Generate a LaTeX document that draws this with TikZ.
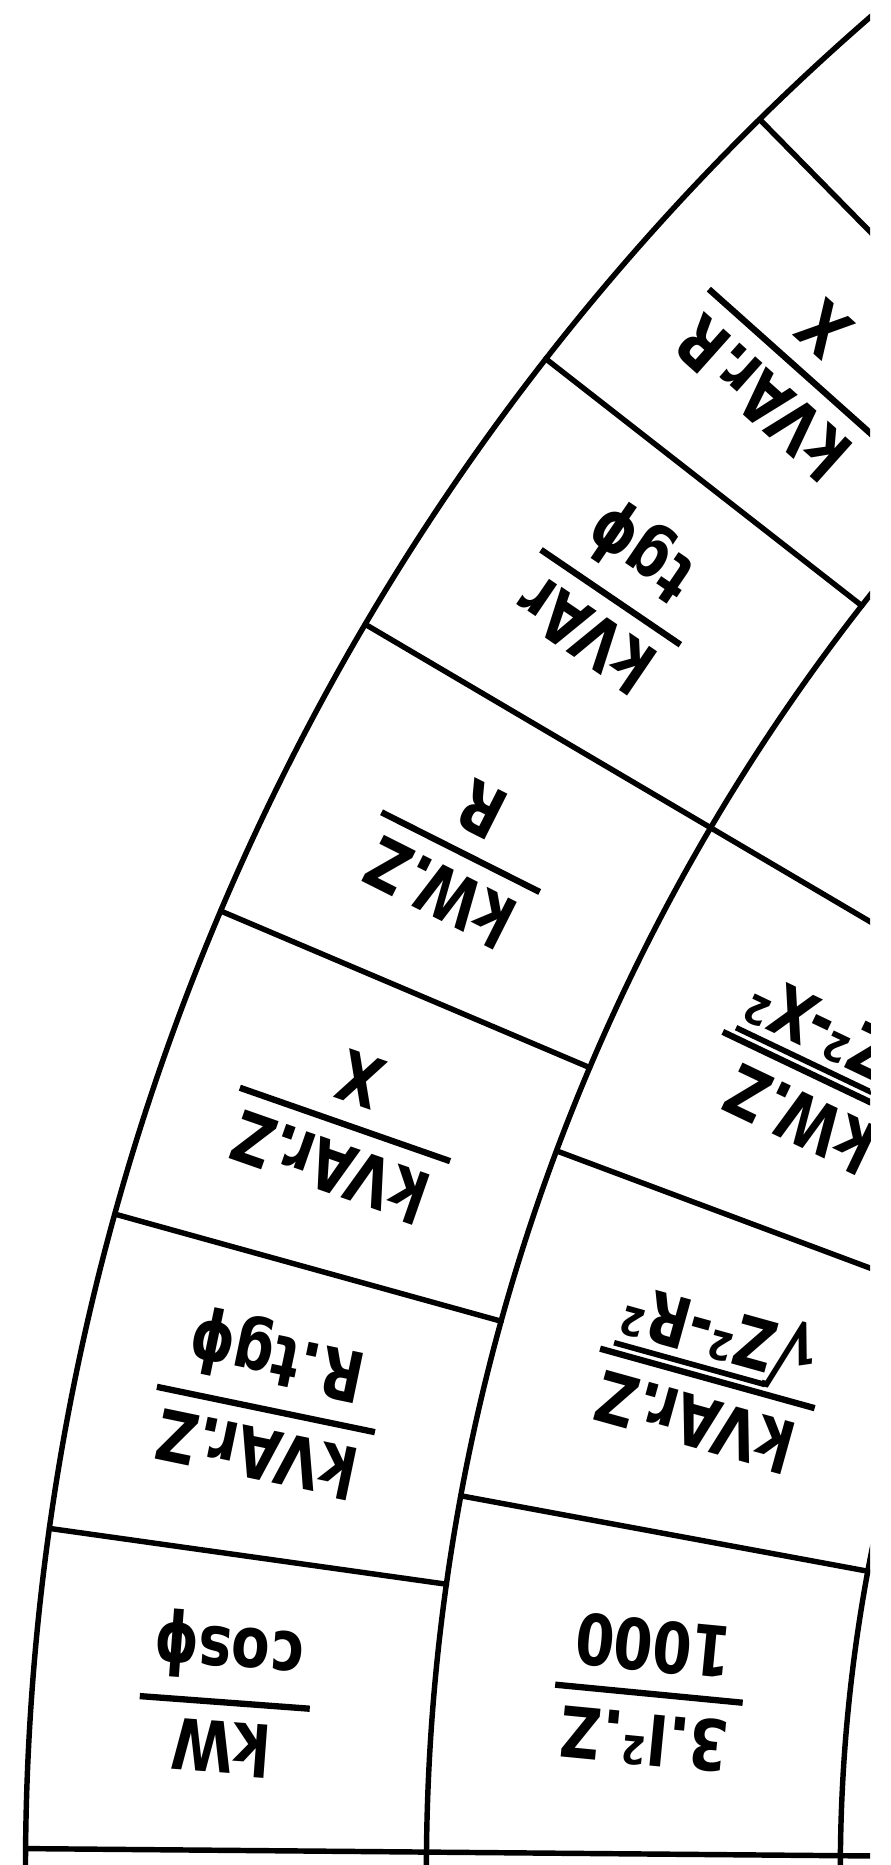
\documentclass[tikz,border=0pt]{standalone}
\usepackage{fontspec}
\usepackage{graphicx}
\setmainfont{DejaVu Sans}
\usetikzlibrary{calc}

% fraction: [gap above denominator]{numerator}{denominator}; baseline = centre of the bar
\newcommand\cellfrac[3][0.26em]{%
  \setbox0=\hbox{#2}\setbox2=\hbox{#3}%
  \dimen0=\wd0 \ifdim\wd2>\dimen0 \dimen0=\wd2 \fi
  \advance\dimen0 by 0.36em
  \hbox{\rlap{\vbox{\hbox to\dimen0{\hfil\box0\hfil}\kern0.23em
        \hrule height0.045em depth0.045em width\dimen0}}%
    \vtop{\kern0.045em\kern#1\hbox to\dimen0{\hfil\vrule height0.73em width0pt\box2\hfil}}}}

% radical built from the text font's root sign and a rule
\newcommand\radix[1]{%
  \setbox4=\hbox{#1}%
  \setbox6=\hbox{√}%
  \setbox6=\hbox{\raise\dp6\box6}%
  \dimen4=\ht4 \advance\dimen4 by 0.3em
  \hbox{\lower0.12em\hbox{\resizebox{!}{\dimen4}{\box6}}%
    \kern-0.06em\vbox{\hrule height0.08em\kern0.1em\box4}}}

\tikzset{
  ring/.style={line width=3.1pt, line cap=round},
  lbl/.style={font=\fontsize{40}{48}\selectfont\bfseries, inner sep=0pt, anchor=base, xscale=0.8}
}

\begin{document}
\begin{tikzpicture}[x=0.02cm,y=0.02cm]
\useasboundingbox (0,0) rectangle (890,-1865);
\coordinate (C) at (2480,-1870);
\begin{scope}
\clip (0,0) rectangle (870,-1865);
% rings
\draw[ring] ($(C)+(180:49.1cm)$) arc[start angle=180, end angle=120, radius=49.1cm];
\draw[ring] ($(C)+(180:41.08cm)$) arc[start angle=180, end angle=120, radius=41.08cm];
\draw[ring] ($(C)+(180:32.8cm)$) arc[start angle=180, end angle=140, radius=32.8cm];
% base radius
\draw[ring] ($(C)+(179.5:49.1cm)$) -- ($(C)+(179.5:31cm)$);
% outer ring separators
\foreach \a in {8,15.5,23,30.5,38,45.5}
  \draw[ring] ($(C)+(180-\a:49.1cm)$) -- ($(C)+(180-\a:41.08cm)$);
% middle ring separators
\foreach \a in {10.5,20.5,30.5}
  \draw[ring] ($(C)+(180-\a:41.08cm)$) -- ($(C)+(180-\a:32.8cm)$);

% outer ring labels
\node[rotate=175.75, lbl] (o1) at ($(C)+(175.75:45.24cm)$) {\cellfrac{kW}{cosϕ}};
\node[rotate=168.25, lbl] (o2) at ($(C)+(168.25:45.24cm)$) {\cellfrac{kVAr.Z}{R.tgϕ}};
\node[rotate=160.75, lbl] (o3) at ($(C)+(160.75:45.24cm)$) {\cellfrac{kVAr.Z}{X}};
\node[rotate=153.25, lbl] (o4) at ($(C)+(153.25:45.24cm)$) {\cellfrac{kW.Z}{R}};
\node[rotate=145.75, lbl] (o5) at ($(C)+(145.75:45.24cm)$) {\cellfrac{kVAr}{tgϕ}};
\node[rotate=138.25, lbl] (o6) at ($(C)+(138.25:45.24cm)$) {\cellfrac{kVAr.R}{X}};
% middle ring labels
\node[rotate=174.5, lbl] (m1) at ($(C)+(174.5:36.8cm)$) {\cellfrac{3.I².Z}{1000}};
\node[rotate=164.5, lbl] (m2) at ($(C)+(164.5:36.8cm)$) {\cellfrac[0.05em]{kVAr.Z}{\radix{Z²-R²}}};
\node[rotate=154.5, lbl] (m3) at ($(C)+(154.5:36.8cm)$) {\cellfrac[0.05em]{kW.Z}{\radix{Z²-X²}}};
\end{scope}
\end{tikzpicture}
\end{document}
